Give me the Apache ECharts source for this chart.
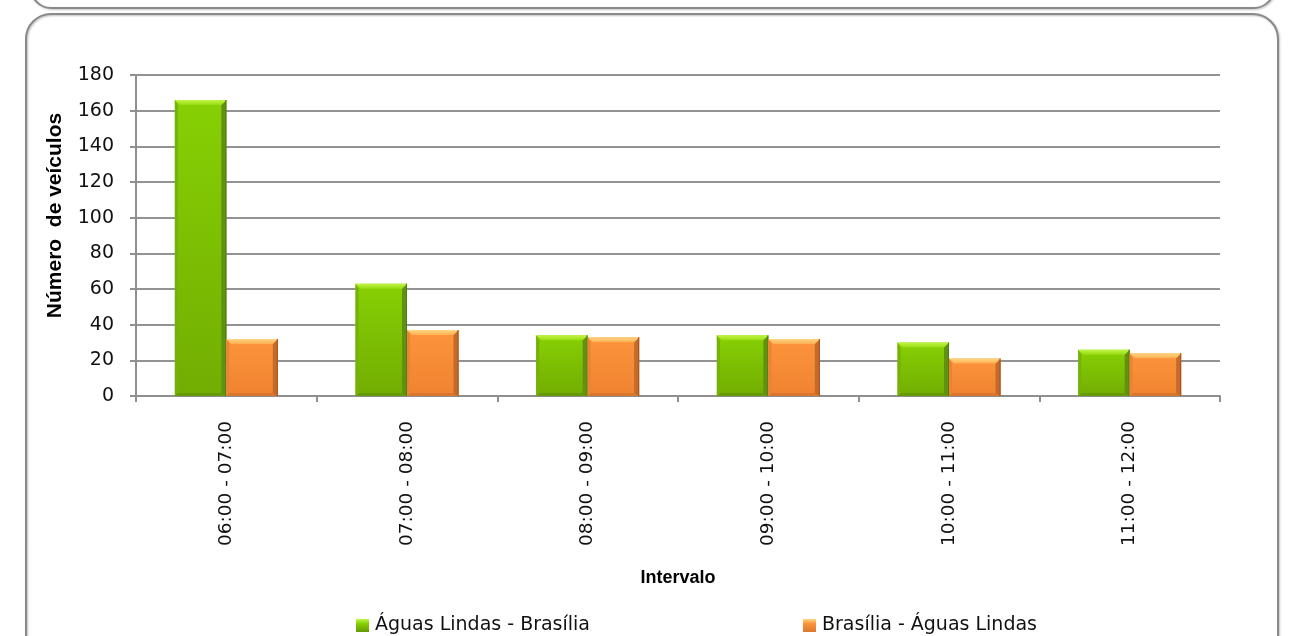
<!DOCTYPE html>
<html>
<head>
<meta charset="utf-8">
<script src="https://cdn.jsdelivr.net/npm/echarts@6/dist/echarts.min.js"></script>
<style>
  html, body { margin: 0; padding: 0; background: #ffffff; }
  #chart { width: 1291px; height: 636px; }
</style>
</head>
<body>
<div id="chart"></div>
<script>
const categories = ['06:00 - 07:00', '07:00 - 08:00', '08:00 - 09:00', '09:00 - 10:00', '10:00 - 11:00', '11:00 - 12:00'];
const seriesNames = ['Águas Lindas - Brasília', 'Brasília - Águas Lindas'];
const aguasToBrasilia = [166, 63, 34, 34, 30, 26];
const brasiliaToAguas = [32, 37, 33, 32, 21, 24];
const yTicks = { min: 0, max: 180, interval: 20 };

const FONT = 'DejaVu Sans';
const TITLE_FONT = 'Liberation Sans';
const gray = '#8f8f8f';

const palettes = [
  { main: ['#87d004', '#72ad02'], top: ['#c2f548', '#96dc10'], left: '#75b108', right: '#5f9212', bottom: '#679a08', edge: '#527c12' },
  { main: ['#fc943c', '#f08331'], top: ['#ffd883', '#ffae52'], left: '#ea8433', right: '#c46a2a', bottom: '#d9772e', edge: '#a6561f' }
];

function makeRender(seriesIdx) {
  const p = palettes[seriesIdx];
  return function (params, api) {
    const idx = api.value(0);
    const val = api.value(1);
    const topPt = api.coord([idx, val]);
    const basePt = api.coord([idx, 0]);
    const band = api.size([1, 0])[0];
    const barW = band * 0.285;
    const x0 = seriesIdx === 0 ? topPt[0] - barW : topPt[0];
    const x1 = x0 + barW;
    const yT = topPt[1];
    const yB = basePt[1];
    const h = yB - yT;
    const b = Math.min(5, h / 2, barW / 2);
    const bb = Math.min(3, h / 2);
    const vGrad = (c) => new echarts.graphic.LinearGradient(0, 0, 0, 1, [{ offset: 0, color: c[0] }, { offset: 1, color: c[1] }]);
    return {
      type: 'group',
      children: [
        { type: 'rect', shape: { x: x0, y: yT, width: barW, height: h }, style: { fill: vGrad(p.main) } },
        { type: 'polygon', shape: { points: [[x0, yB], [x0 + bb, yB - bb], [x1 - bb, yB - bb], [x1, yB]] }, style: { fill: p.bottom } },
        { type: 'polygon', shape: { points: [[x0, yT], [x0 + 3, yT + b], [x0 + 3, yB - bb], [x0, yB]] }, style: { fill: p.left } },
        { type: 'polygon', shape: { points: [[x1, yT], [x1 - b, yT + b], [x1 - b, yB - bb], [x1, yB]] }, style: { fill: p.right } },
        { type: 'polygon', shape: { points: [[x0, yT], [x1, yT], [x1 - b, yT + b], [x0 + b, yT + b]] }, style: { fill: vGrad(p.top) } },
        { type: 'line', shape: { x1: x1 - 0.5, y1: yT, x2: x1 - 0.5, y2: yB }, style: { stroke: p.edge, lineWidth: 1 } }
      ]
    };
  };
}

const legendIcon = (p) => new echarts.graphic.LinearGradient(0, 0, 0, 1, [
  { offset: 0, color: p.top[0] }, { offset: 0.35, color: p.main[0] }, { offset: 1, color: p.bottom }
]);

const chart = echarts.init(document.getElementById('chart'), null, { renderer: 'canvas' });

chart.setOption({
  backgroundColor: '#ffffff',
  animation: false,
  textStyle: { fontFamily: FONT, color: '#111' },
  graphic: [
    { type: 'rect', z: -1, shape: { x: 31, y: -200, width: 1243, height: 208, r: 20 },
      style: { fill: 'none', stroke: '#8a8a8a', lineWidth: 2, shadowColor: 'rgba(0,0,0,0.25)', shadowBlur: 2, shadowOffsetX: 1, shadowOffsetY: 1 } },
    { type: 'rect', z: -1, shape: { x: 26, y: 14, width: 1252, height: 700, r: 25 },
      style: { fill: 'none', stroke: '#8a8a8a', lineWidth: 2, shadowColor: 'rgba(0,0,0,0.25)', shadowBlur: 2, shadowOffsetX: 1, shadowOffsetY: 1 } }
  ],
  grid: { left: 136, right: 71, top: 75, bottom: 240, containLabel: false },
  legend: [
    { data: [{ name: seriesNames[0], icon: 'rect', itemStyle: { color: legendIcon(palettes[0]) } }], left: 351, top: 611, itemWidth: 13, itemHeight: 13, itemGap: 0,
      textStyle: { fontFamily: FONT, fontSize: 19, color: '#111', padding: [0, 0, 0, 1] } },
    { data: [{ name: seriesNames[1], icon: 'rect', itemStyle: { color: legendIcon(palettes[1]) } }], left: 798, top: 611, itemWidth: 13, itemHeight: 13, itemGap: 0,
      textStyle: { fontFamily: FONT, fontSize: 19, color: '#111', padding: [0, 0, 0, 1] } }
  ],
  xAxis: {
    type: 'category',
    data: categories,
    name: 'Intervalo',
    nameLocation: 'middle',
    nameGap: 173,
    nameTextStyle: { fontFamily: TITLE_FONT, fontWeight: 'bold', fontSize: 18, color: '#000' },
    axisLine: { show: true, lineStyle: { color: gray, width: 2 } },
    axisTick: { show: true, length: 6, lineStyle: { color: gray, width: 2 } },
    axisLabel: { rotate: 90, margin: 25, fontFamily: FONT, fontSize: 18.5, color: '#111' },
    splitLine: { show: false }
  },
  yAxis: {
    type: 'value',
    min: yTicks.min, max: yTicks.max, interval: yTicks.interval,
    name: 'Número  de veículos',
    nameLocation: 'middle',
    nameGap: 70,
    nameRotate: 90,
    nameTextStyle: { fontFamily: TITLE_FONT, fontWeight: 'bold', fontSize: 21, color: '#000', padding: [0, 0, 0, 40] },
    axisLine: { show: true, lineStyle: { color: gray, width: 2 } },
    axisTick: { show: true, length: 6, lineStyle: { color: gray, width: 2 } },
    axisLabel: { margin: 22, fontFamily: FONT, fontSize: 19, color: '#111' },
    splitLine: { show: true, lineStyle: { color: '#939393', width: 2 } }
  },
  series: [
    { name: seriesNames[0], type: 'custom', renderItem: makeRender(0), encode: { x: 0, y: 1 },
      itemStyle: { color: legendIcon(palettes[0]) },
      data: aguasToBrasilia.map((v, i) => [i, v]) },
    { name: seriesNames[1], type: 'custom', renderItem: makeRender(1), encode: { x: 0, y: 1 },
      itemStyle: { color: legendIcon(palettes[1]) },
      data: brasiliaToAguas.map((v, i) => [i, v]) }
  ]
});
</script>
</body>
</html>
